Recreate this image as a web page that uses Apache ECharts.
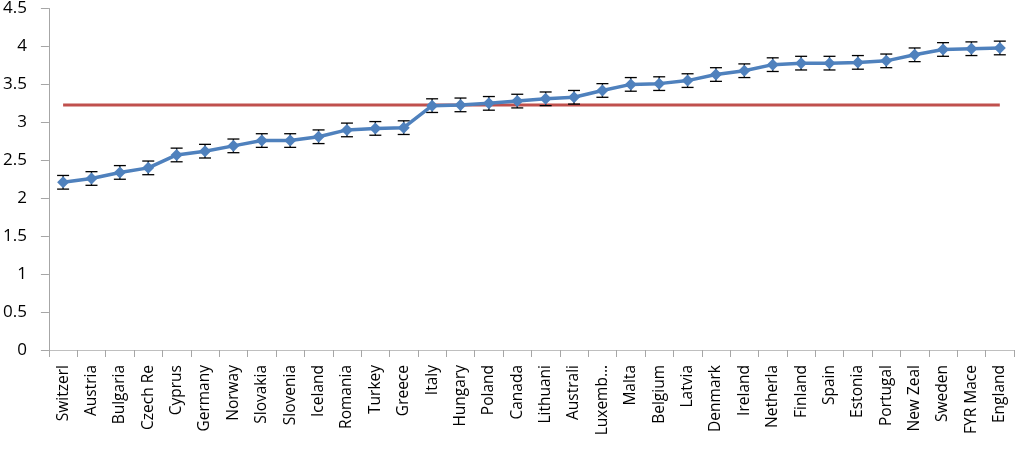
<!DOCTYPE html>
<html><head><meta charset="utf-8">
<script src="https://cdn.jsdelivr.net/npm/echarts@6/dist/echarts.min.js"></script>
<style>html,body{margin:0;padding:0;background:#fff}#c{width:1015px;height:451px}</style>
</head><body><div id="c"></div>
<script>
const categories = ["Switzerl","Austria","Bulgaria","Czech Re","Cyprus","Germany","Norway","Slovakia","Slovenia","Iceland","Romania","Turkey","Greece","Italy","Hungary","Poland","Canada","Lithuani","Australi","Luxemb…","Malta","Belgium","Latvia","Denmark","Ireland","Netherla","Finland","Spain","Estonia","Portugal","New Zeal","Sweden","FYR Mace","England"];
const means = [2.21,2.26,2.34,2.40,2.57,2.62,2.69,2.76,2.76,2.81,2.90,2.92,2.93,3.22,3.23,3.25,3.28,3.31,3.33,3.42,3.50,3.51,3.55,3.63,3.68,3.76,3.78,3.78,3.79,3.81,3.89,3.96,3.97,3.98];
const errors = [0.09,0.09,0.09,0.09,0.09,0.09,0.09,0.09,0.09,0.09,0.09,0.09,0.09,0.09,0.09,0.09,0.09,0.09,0.09,0.09,0.09,0.09,0.09,0.09,0.09,0.09,0.09,0.09,0.09,0.09,0.09,0.09,0.09,0.09];
const overallMean = 3.23;
const yTicks = {min:0, max:4.5, interval:0.5};

const chart = echarts.init(document.getElementById('c'), null, {renderer:'canvas'});
const errData = means.map((m,i)=>[i, m-errors[i], m+errors[i]]);
chart.setOption({
  animation:false,
  textStyle:{fontFamily:'Open Sans'},
  grid:{left:48, right:1, top:8, bottom:101, containLabel:false},
  xAxis:{
    type:'category', data:categories, boundaryGap:true,
    axisLine:{lineStyle:{color:'#BFBFBF', width:1}},
    axisTick:{show:true, length:7, lineStyle:{color:'#A6A6A6'}},
    axisLabel:{rotate:90, interval:0, color:'#000', fontSize:15.5, margin:15, fontFamily:'Open Sans'}
  },
  yAxis:{
    type:'value', min:yTicks.min, max:yTicks.max, interval:yTicks.interval,
    axisLine:{show:true, lineStyle:{color:'#A6A6A6', width:1}},
    axisTick:{show:true, length:8, lineStyle:{color:'#A6A6A6'}},
    splitLine:{show:false},
    axisLabel:{color:'#000', fontSize:17, margin:22, fontFamily:'Open Sans'}
  },
  series:[
    {
      type:'line', data:categories.map(()=>overallMean), symbol:'none',
      lineStyle:{color:'#C0504D', width:3}, z:2, silent:true
    },
    {
      type:'custom', data:errData, z:3,
      renderItem:function(params, api){
        const x = api.value(0);
        const lo = api.coord([x, api.value(1)]);
        const hi = api.coord([x, api.value(2)]);
        const cw = 6;
        const st = {stroke:'#000', lineWidth:1.3};
        return {type:'group', children:[
          {type:'line', shape:{x1:lo[0],y1:lo[1],x2:hi[0],y2:hi[1]}, style:st},
          {type:'line', shape:{x1:lo[0]-cw,y1:lo[1],x2:lo[0]+cw,y2:lo[1]}, style:st},
          {type:'line', shape:{x1:hi[0]-cw,y1:hi[1],x2:hi[0]+cw,y2:hi[1]}, style:st}
        ]};
      }
    },
    {
      type:'line', data:means, symbol:'diamond', symbolSize:12,
      lineStyle:{color:'#4F81BD', width:3.5},
      itemStyle:{color:'#4F81BD'}, z:4
    }
  ]
});
</script></body></html>
